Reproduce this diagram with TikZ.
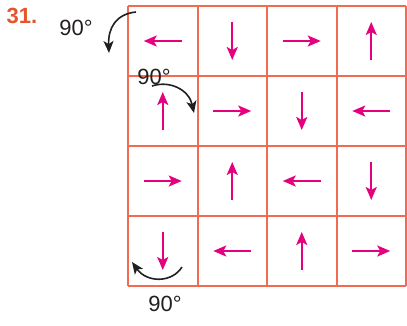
\documentclass[tikz,border=0pt]{standalone}
\usepackage{fontspec}
\setmainfont{Liberation Sans}
\usetikzlibrary{arrows.meta,calc}
\definecolor{gridred}{HTML}{F26A4F}
\definecolor{labelorange}{HTML}{E5542B}
\definecolor{arrowpink}{HTML}{E5007D}
\definecolor{inkblack}{HTML}{231F20}
\tikzset{
    gridline/.style={gridred, line width=2pt},
    pinkarrow/.style={arrowpink, line width=2pt,
        -{Stealth[length=13pt,width=11pt,inset=3pt]}},
    turnarrow/.style={inkblack, line width=1.6pt,
        -{Stealth[length=12pt,width=10pt,inset=3pt]}},
    anglelabel/.style={inkblack, font=\fontsize{22}{22}\selectfont, inner sep=0pt}
}
\begin{document}
\begin{tikzpicture}[x=1pt, y=-1pt]
    \useasboundingbox (0,0) rectangle (407,325);
    % grid of 4 x 4 cells
    \foreach \i in {0,...,4} {
        \draw[gridline] (128+69.5*\i,6) -- (128+69.5*\i,286);
        \draw[gridline] (128,6+70*\i) -- (406,6+70*\i);
    }
    % arrows inside the cells: row/column/direction (y runs downwards, so 90 = down)
    \foreach \r/\c/\a in {1/1/180, 1/2/90,  1/3/0,   1/4/270,
                          2/1/270, 2/2/0,   2/3/90,  2/4/180,
                          3/1/0,   3/2/270, 3/3/180, 3/4/90,
                          4/1/90,  4/2/180, 4/3/270, 4/4/0} {
        \coordinate (cell-\r-\c) at (128+69.5*\c-34.75, 6+70*\r-35);
        \draw[pinkarrow] ($(cell-\r-\c)+(\a+180:19)$) -- ($(cell-\r-\c)+(\a:19)$);
    }
    % labels
    \node[labelorange, font=\fontsize{22}{22}\selectfont\bfseries, inner sep=0pt]
        (num) at (22,16) {31.};
    \node[anglelabel] (turn-a) at (76,28) {90°};
    \node[anglelabel] (turn-b) at (154,77) {90°};
    \node[anglelabel] (turn-c) at (165,304) {90°};
    % turning arrows
    \draw[turnarrow] (136,12) .. controls (116,14) and (108,28) .. (109,53);
    \draw[turnarrow] (152,86) .. controls (170,80) and (189,90) .. (194,113);
    \draw[turnarrow] (182,267) .. controls (172,283) and (147,283) .. (132,262);
\end{tikzpicture}
\end{document}
